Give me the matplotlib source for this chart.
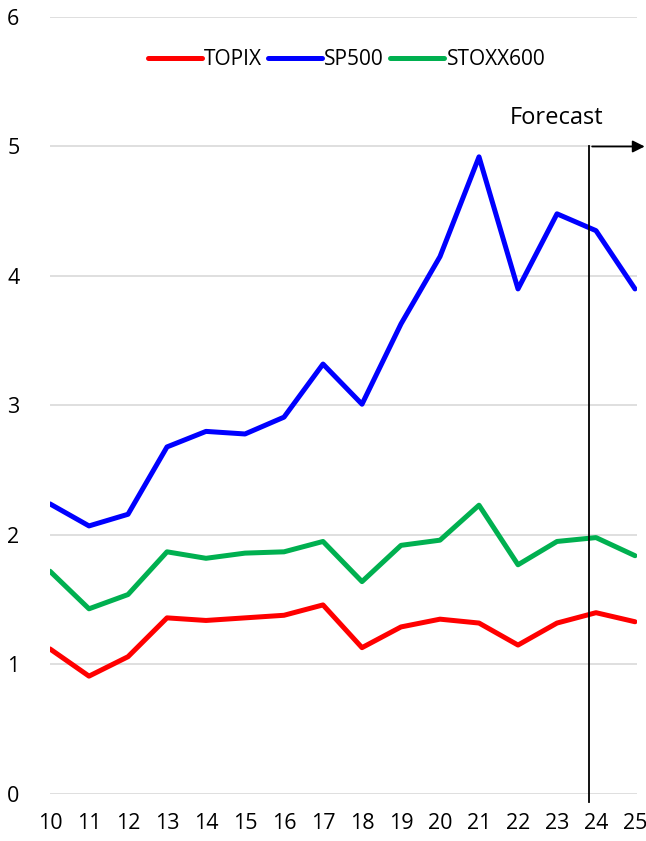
import matplotlib.pyplot as plt

plt.rcParams['font.family'] = ['Open Sans', 'DejaVu Sans']

years = list(range(10, 26))
year_labels = [str(y) for y in years]
topix = [1.12, 0.91, 1.06, 1.36, 1.34, 1.36, 1.38, 1.46, 1.13, 1.29, 1.35, 1.32, 1.15, 1.32, 1.40, 1.33]
sp500 = [2.24, 2.07, 2.16, 2.68, 2.80, 2.78, 2.91, 3.32, 3.01, 3.63, 4.15, 4.92, 3.90, 4.48, 4.35, 3.90]
stoxx600 = [1.72, 1.43, 1.54, 1.87, 1.82, 1.86, 1.87, 1.95, 1.64, 1.92, 1.96, 2.23, 1.77, 1.95, 1.98, 1.84]
forecast_x = 23.83
forecast_level = 5

fig = plt.figure(figsize=(6.46, 8.41), dpi=100)
ax = fig.add_axes([0.0774, 0.0559, 0.9086, 0.9239])

# series
ax.plot(years, topix, color='#ff0000', lw=3.6, label='TOPIX', solid_capstyle='round')
ax.plot(years, sp500, color='#0000ff', lw=3.6, label='SP500', solid_capstyle='round')
ax.plot(years, stoxx600, color='#00b050', lw=3.6, label='STOXX600', solid_capstyle='round')

ax.set_xlim(10, 25.05)
ax.set_ylim(0, 6)
ax.set_yticks(range(0, 7))
ax.set_xticks(years)
ax.set_xticklabels(year_labels)
ax.yaxis.grid(True, color='#d9d9d9', lw=1.2)
ax.set_axisbelow(True)
for s in ax.spines.values():
    s.set_visible(False)
ax.tick_params(length=0, labelsize=15.5, colors='black')
ax.tick_params(axis='y', pad=22)
ax.tick_params(axis='x', pad=14)

# forecast marker
ax.plot([forecast_x, forecast_x], [forecast_level, -0.065], color='black', lw=1.3, clip_on=False)
ax.annotate('', xy=(25.32, forecast_level), xytext=(forecast_x, forecast_level),
            arrowprops=dict(arrowstyle='-|>', color='black', lw=1.3, mutation_scale=18),
            annotation_clip=False)
ax.text(23.0, 5.13, 'Forecast', fontsize=17, ha='center', va='bottom')

leg = ax.legend(loc='center', bbox_to_anchor=(0.505, 0.945), ncol=3, frameon=False,
                fontsize=15, handlelength=2.6, handletextpad=0.1, columnspacing=0.3)

fig.savefig('out.png', dpi=100)
